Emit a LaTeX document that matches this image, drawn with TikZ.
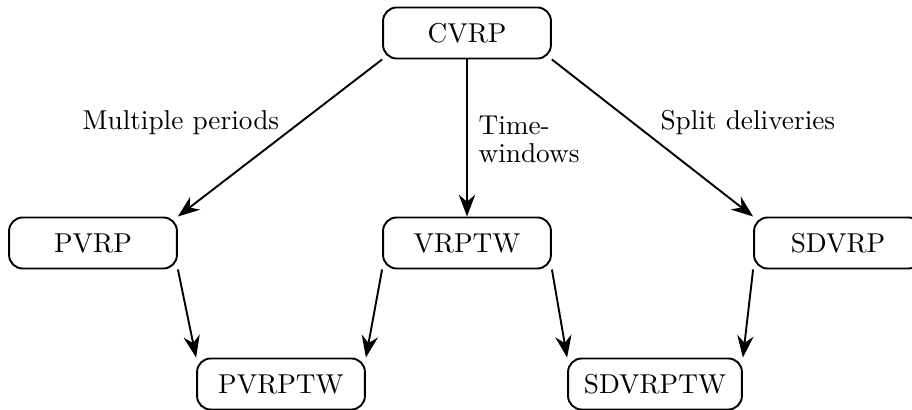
\documentclass[tikz,border=0pt]{standalone}
\usetikzlibrary{arrows.meta}
\begin{document}
\begin{tikzpicture}[x=0.3663pt,y=-0.3663pt,
  box/.style={draw, rounded corners=5pt, line width=0.7pt, minimum width=61.5pt,
    minimum height=18.7pt, inner xsep=5.8pt, font=\fontsize{10}{12}\selectfont},
  arr/.style={line width=0.7pt, -{Stealth[length=8pt,width=6pt]}},
  lbl/.style={inner sep=0pt, font=\fontsize{10}{12}\selectfont}]
\useasboundingbox (0,0) rectangle (912,410);
\node[box] (cvrp) at (467,33) {CVRP};
\node[box] (pvrp) at (93,243) {PVRP};
\node[box] (vrptw) at (467,243) {VRPTW};
\node[box] (sdvrp) at (838,243) {SDVRP};
\node[box] (pvrptw) at (281,384) {PVRPTW};
\node[box] (sdvrptw) at (655,384) {SDVRPTW};
\draw[arr] (cvrp.south west) -- (pvrp.north east);
\draw[arr] (cvrp.south) -- (vrptw.north);
\draw[arr] (cvrp.south east) -- (sdvrp.north west);
\draw[arr] (pvrp.south east) -- (pvrptw.north west);
\draw[arr] (vrptw.south west) -- (pvrptw.north east);
\draw[arr] (vrptw.south east) -- (sdvrptw.north west);
\draw[arr] (sdvrp.south west) -- (sdvrptw.north east);
\node[lbl, anchor=base west] (lm) at (82,130) {Multiple periods};
\node[lbl, anchor=base west] (ls) at (660,130) {Split deliveries};
\node[lbl, anchor=base west] (lt1) at (478,135) {Time-};
\node[lbl, anchor=base west] (lt2) at (478,163) {windows};
\end{tikzpicture}
\end{document}
